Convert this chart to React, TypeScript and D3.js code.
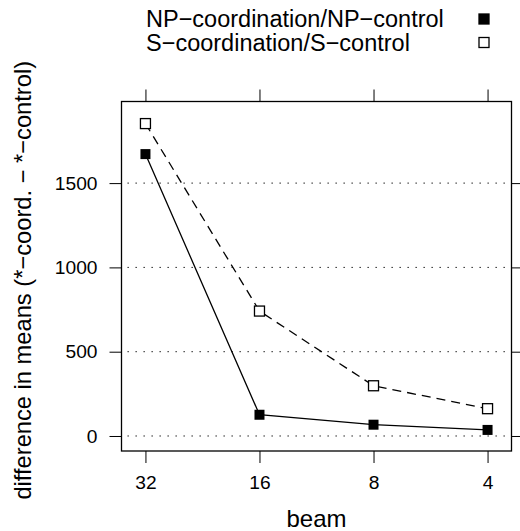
import * as d3 from 'd3'
import {useRef, useEffect} from 'react'

// values
const beams: number[] = [32, 16, 8, 4]
const npDiff: number[] = [1672, 126, 67, 36]
const sDiff: number[] = [1853, 741, 298, 162]
const yTicks: number[] = [0, 500, 1000, 1500]
const seriesNames: string[] = ['NP\u2212coordination/NP\u2212control', 'S\u2212coordination/S\u2212control']

const svgWidth = 520
const svgHeight = 531
const box = {left: 121.5, right: 511.5, top: 101.5, bottom: 451}
const font = 'Liberation Sans, Arial, Helvetica, sans-serif'

const App = () => {
  const svgRef = useRef(null)

  const draw = (): void => {
    const SVG = d3.select(svgRef.current)
    SVG.selectAll('*').remove()

    const pad = 0.21
    const xScale = d3.scaleLog().base(2)
      .domain([32 * Math.pow(2, pad), 4 / Math.pow(2, pad)])
      .range([box.left, box.right])
    const yScale = d3.scaleLinear()
      .domain([-89, 1984])
      .range([box.bottom, box.top])

    // dotted reference lines
    SVG.append('g')
      .selectAll('line')
      .data(yTicks)
      .enter()
      .append('line')
      .attr('x1', box.left + 6)
      .attr('x2', box.right - 2)
      .attr('y1', (d: number) => yScale(d))
      .attr('y2', (d: number) => yScale(d))
      .attr('stroke', '#000')
      .attr('stroke-width', 1)
      .attr('stroke-dasharray', '1.3 6.7')

    const styleAxis = (g: any, size: number) => {
      g.select('.domain').remove()
      g.selectAll('line').attr('stroke', '#000').attr('stroke-width', 1)
      g.selectAll('text').attr('fill', '#000').attr('font-size', size).attr('font-family', font)
    }

    SVG.append('g')
      .attr('transform', `translate(${box.left},0)`)
      .call(d3.axisLeft(yScale).tickValues(yTicks).tickSize(12).tickPadding(12).tickFormat((d: any) => String(d)))
      .call((g: any) => styleAxis(g, 19.2))
    SVG.append('g')
      .attr('transform', `translate(${box.right},0)`)
      .call(d3.axisRight(yScale).tickValues(yTicks).tickSize(12).tickFormat(() => ''))
      .call((g: any) => styleAxis(g, 19.2))
    SVG.append('g')
      .attr('transform', `translate(0,${box.bottom})`)
      .call(d3.axisBottom(xScale).tickValues(beams).tickSize(12).tickPadding(12).tickFormat((d: any) => String(d)))
      .call((g: any) => styleAxis(g, 19.2))
    SVG.append('g')
      .attr('transform', `translate(0,${box.top})`)
      .call(d3.axisTop(xScale).tickValues(beams).tickSize(12).tickFormat(() => ''))
      .call((g: any) => styleAxis(g, 19.2))

    // panel box
    SVG.append('rect')
      .attr('x', box.left)
      .attr('y', box.top)
      .attr('width', box.right - box.left)
      .attr('height', box.bottom - box.top)
      .attr('fill', 'none')
      .attr('stroke', '#000')
      .attr('stroke-width', 1.3)

    const line = d3.line<number>()
      .x((d: number, i: number) => xScale(beams[i]))
      .y((d: number) => yScale(d))

    SVG.append('path')
      .attr('d', line(sDiff))
      .attr('fill', 'none')
      .attr('stroke', '#000')
      .attr('stroke-width', 1.3)
      .attr('stroke-dasharray', '9 6')
    SVG.append('path')
      .attr('d', line(npDiff))
      .attr('fill', 'none')
      .attr('stroke', '#000')
      .attr('stroke-width', 1.3)

    const sq = 10
    SVG.append('g')
      .selectAll('rect')
      .data(sDiff)
      .enter()
      .append('rect')
      .attr('x', (d: number, i: number) => xScale(beams[i]) - sq / 2)
      .attr('y', (d: number) => yScale(d) - sq / 2)
      .attr('width', sq)
      .attr('height', sq)
      .attr('fill', '#fff')
      .attr('stroke', '#000')
      .attr('stroke-width', 1.3)
    SVG.append('g')
      .selectAll('rect')
      .data(npDiff)
      .enter()
      .append('rect')
      .attr('x', (d: number, i: number) => xScale(beams[i]) - sq / 2)
      .attr('y', (d: number) => yScale(d) - sq / 2)
      .attr('width', sq)
      .attr('height', sq)
      .attr('fill', '#000')

    // legend
    const leg = SVG.append('g')
    seriesNames.forEach((name: string, i: number) => {
      const cy = 19 + i * 23.5
      leg.append('text')
        .attr('x', 146)
        .attr('y', cy + 8)
        .attr('font-size', 23.5)
        .attr('font-family', font)
        .text(name)
      leg.append('rect')
        .attr('x', 484 - sq / 2)
        .attr('y', cy - sq / 2)
        .attr('width', sq)
        .attr('height', sq)
        .attr('fill', i === 0 ? '#000' : '#fff')
        .attr('stroke', '#000')
        .attr('stroke-width', 1.3)
    })

    // axis titles
    SVG.append('text')
      .attr('x', (box.left + box.right) / 2)
      .attr('y', 527)
      .attr('text-anchor', 'middle')
      .attr('font-size', 24)
      .attr('font-family', font)
      .text('beam')
    SVG.append('text')
      .attr('transform', `translate(31,${(box.top + box.bottom) / 2 + 4}) rotate(-90)`)
      .attr('text-anchor', 'middle')
      .attr('font-size', 23.7)
      .attr('font-family', font)
      .text('difference in means (*\u2212coord. \u2212 *\u2212control)')
  }

  useEffect((): void => draw(), [])

  return (
    <svg ref={svgRef} width={svgWidth} height={svgHeight}
      style={{position: 'absolute', left: 0, top: 0, background: '#fff'}}></svg>
  )
}

export default App
